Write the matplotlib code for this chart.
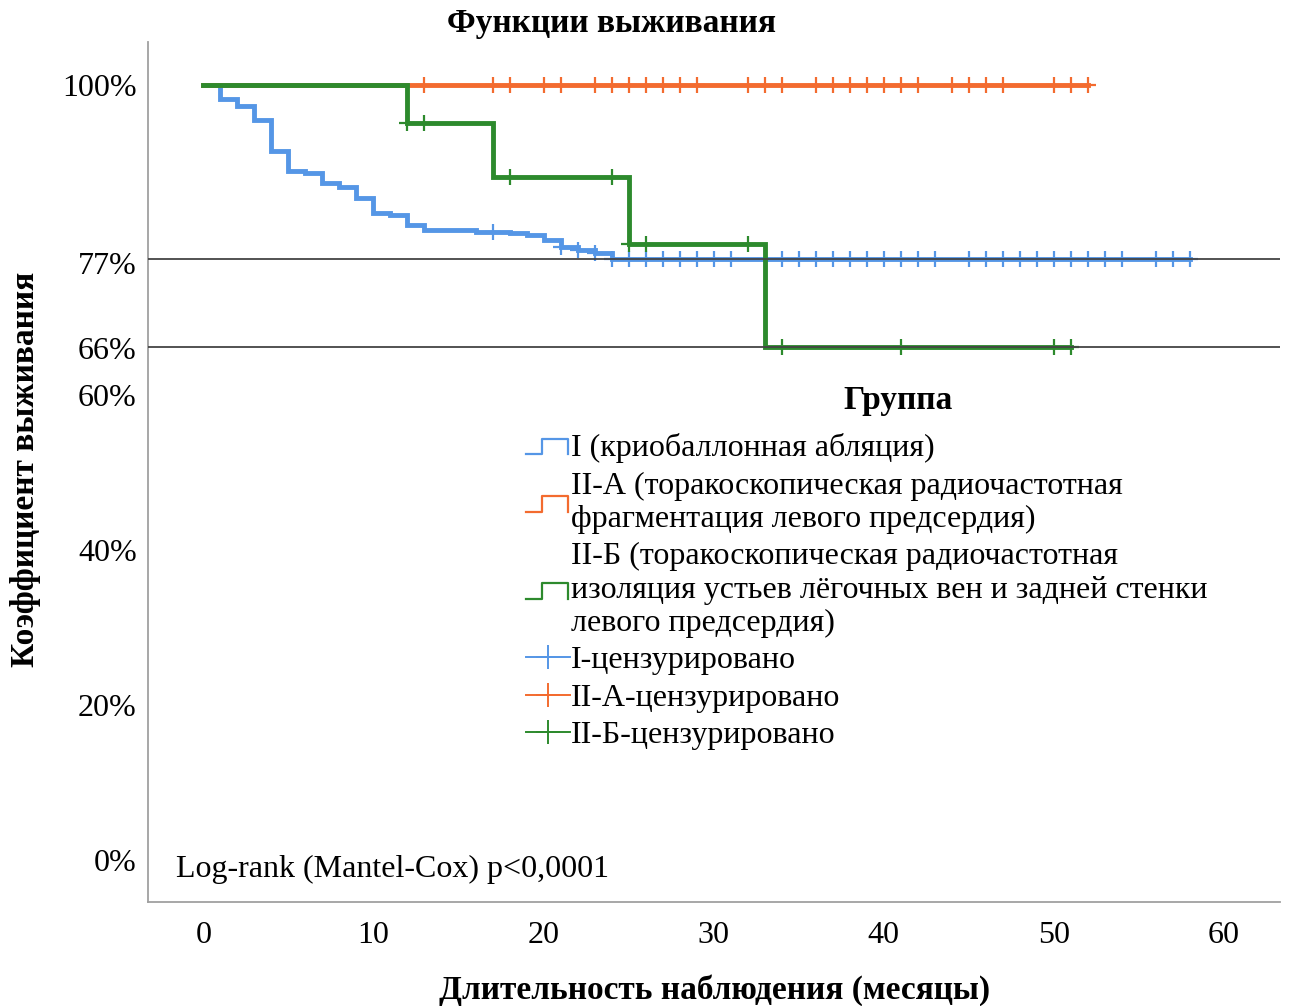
import numpy as np
import matplotlib.pyplot as plt
from matplotlib.lines import Line2D
from matplotlib.legend_handler import HandlerBase

plt.rcParams['font.family'] = ['Liberation Serif', 'DejaVu Serif']
plt.rcParams['font.size'] = 23

# Группа I: моменты событий и выживаемость (%)
t_I = [1, 2, 3, 4, 5, 6, 7, 8, 9, 10, 11, 12, 13, 16, 18, 19, 20, 21, 22, 23, 24]
s_I = [98.1, 97.3, 95.5, 91.4, 88.9, 88.6, 87.3, 86.8, 85.4, 83.4, 83.2, 81.9,
       81.3, 81.0, 80.8, 80.6, 79.9, 79.1, 78.7, 78.3, 77.5]
cens_I = [17, 21, 22, 23, 24, 25, 26, 27, 28, 29, 30, 31, 33, 34, 35, 36, 37, 38,
          39, 40, 41, 42, 43, 45, 46, 47, 48, 49, 50, 51, 52, 53, 54, 56, 57, 58]

# Группа II-А: событий нет
t_IIA = []
s_IIA = []
cens_IIA = [13, 17, 18, 20, 21, 23, 24, 25, 26, 27, 28, 29, 32, 33, 34, 36, 37, 38,
            39, 40, 41, 42, 44, 45, 46, 47, 50, 51, 52]

# Группа II-Б
t_IIB = [12, 17, 25, 33]
s_IIB = [95.0, 88.1, 79.5, 66.2]
cens_IIB = [12, 13, 18, 24, 25, 26, 32, 34, 41, 50, 51]

ref_lines = [77.5, 66.2]
ytick_vals = [0, 20, 40, 60, 66, 77, 100]
ytick_txt = ['0%', '20%', '40%', '60%', '66%', '77%', '100%']
xtick_vals = [0, 10, 20, 30, 40, 50, 60]

labels = ['I (криобаллонная абляция)',
          'II-А (торакоскопическая радиочастотная\nфрагментация левого предсердия)',
          'II-Б (торакоскопическая радиочастотная\nизоляция устьев лёгочных вен и задней стенки\nлевого предсердия)',
          'I-цензурировано', 'II-А-цензурировано', 'II-Б-цензурировано']

blue = '#5596e6'
orange = '#f36b2f'
green = '#2d8a2d'


def level(times, surv, t):
    tt = np.array([0] + times)
    ss = np.array([100] + surv)
    return ss[np.searchsorted(tt, t, side='right') - 1]


class StepHandler(HandlerBase):
    def create_artists(self, legend, orig, xd, yd, w, h, fontsize, trans):
        xs = np.array([0, 0.35, 0.35, 0.97, 0.97]) * w - xd
        ys = np.array([0.1, 0.1, 0.8, 0.8, 0.1]) * h - yd
        ln = Line2D(xs, ys, color=orig.get_color(), lw=1.6, transform=trans)
        return [ln]


fig = plt.figure(figsize=(12.9, 10.06), dpi=100)
ax = fig.add_axes([0.1147, 0.1034, 0.8775, 0.8549])

groups = [(t_I, s_I, cens_I, blue), (t_IIA, s_IIA, cens_IIA, orange),
          (t_IIB, s_IIB, cens_IIB, green)]
for times, surv, cens, col in groups:
    t_end = max(cens + times)
    xs = [0] + times + [t_end]
    ys = [100] + surv + [([100] + surv)[-1]]
    ax.step(xs, ys, where='post', color=col, lw=3.5, solid_joinstyle='miter')
    cy = [level(times, surv, c) for c in cens]
    ax.plot(cens, cy, ls='none', marker='+', ms=12, mew=1.6, color=col)

for r in ref_lines:
    ax.axhline(r, color='#444444', lw=1.3, zorder=5)

ax.set_xlim(-3.26, 63.3)
ax.set_ylim(-5.4, 105.5)
ax.set_xticks(xtick_vals)
ax.set_yticks(ytick_vals)
ax.set_yticklabels(ytick_txt)
ax.tick_params(axis='both', length=0)
ax.tick_params(axis='x', pad=14)
ax.tick_params(axis='y', pad=8)
for sp in ['top', 'right']:
    ax.spines[sp].set_visible(False)
for sp in ['left', 'bottom']:
    ax.spines[sp].set_color('#a0a0a0')
    ax.spines[sp].set_linewidth(1.3)

ax.text(0.025, 0.038, 'Log-rank (Mantel-Cox) p<0,0001', transform=ax.transAxes,
        ha='left', va='center')

fig.text(0.474, 0.977, 'Функции выживания', ha='center', va='center',
         weight='bold', size=24)
fig.text(0.554, 0.016, 'Длительность наблюдения (месяцы)', ha='center', va='center',
         weight='bold', size=24)
fig.text(0.02, 0.533, 'Коэффициент выживания', ha='center', va='center',
         rotation=90, weight='bold', size=24)
fig.text(0.696, 0.602, 'Группа', ha='center', va='center', weight='bold', size=24)

handles = [Line2D([], [], color=blue), Line2D([], [], color=orange),
           Line2D([], [], color=green),
           Line2D([], [], color=blue, lw=1.4, marker='+', ms=17, mew=1.4),
           Line2D([], [], color=orange, lw=1.4, marker='+', ms=17, mew=1.4),
           Line2D([], [], color=green, lw=1.4, marker='+', ms=17, mew=1.4)]
step = StepHandler()
leg = fig.legend(handles, labels, loc='upper left', bbox_to_anchor=(0.3957, 0.585),
                 frameon=False, handlelength=1.35, handletextpad=0.05,
                 labelspacing=0.25, borderpad=0, numpoints=1,
                 handler_map={handles[0]: step, handles[1]: step, handles[2]: step})

fig.savefig('out.png', dpi=100)
